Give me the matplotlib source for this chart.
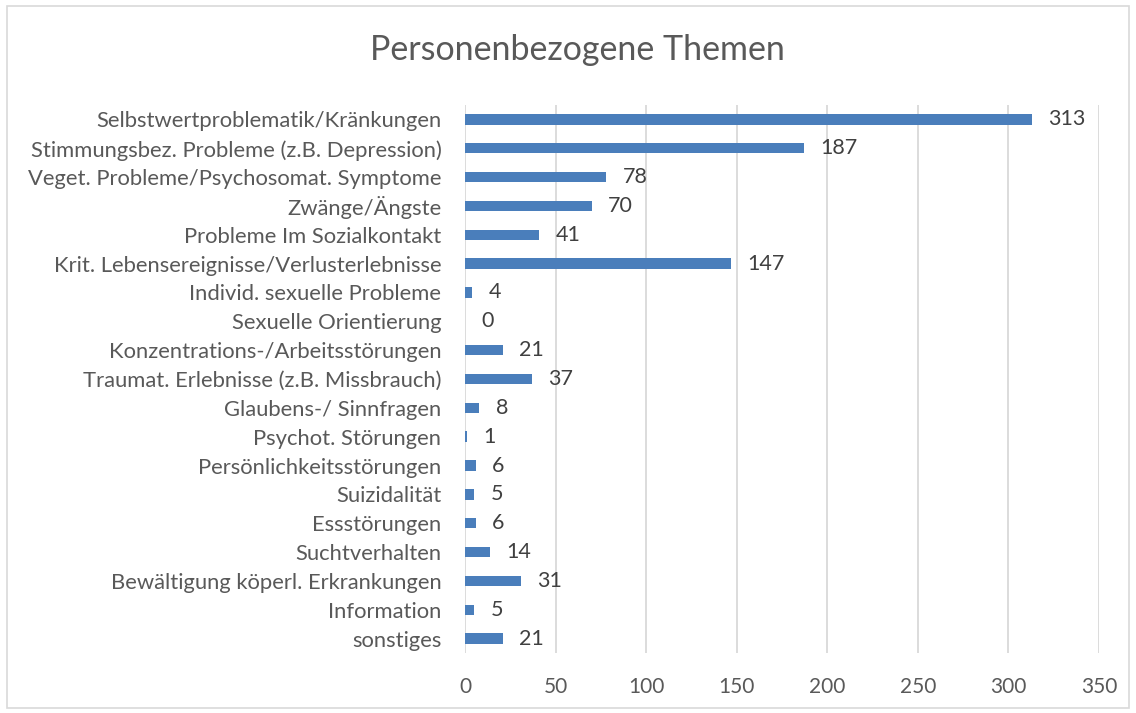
import matplotlib
matplotlib.use("Agg")
import matplotlib.pyplot as plt
from matplotlib.patches import Rectangle

categories = [
    "Selbstwertproblematik/Kränkungen",
    "Stimmungsbez. Probleme (z.B. Depression)",
    "Veget. Probleme/Psychosomat. Symptome",
    "Zwänge/Ängste",
    "Probleme Im Sozialkontakt",
    "Krit. Lebensereignisse/Verlusterlebnisse",
    "Individ. sexuelle Probleme",
    "Sexuelle Orientierung",
    "Konzentrations-/Arbeitsstörungen",
    "Traumat. Erlebnisse (z.B. Missbrauch)",
    "Glaubens-/ Sinnfragen",
    "Psychot. Störungen",
    "Persönlichkeitsstörungen",
    "Suizidalität",
    "Essstörungen",
    "Suchtverhalten",
    "Bewältigung köperl. Erkrankungen",
    "Information",
    "sonstiges",
]
values = [313, 187, 78, 70, 41, 147, 4, 0, 21, 37, 8, 1, 6, 5, 6, 14, 31, 5, 21]
xticks = [0, 50, 100, 150, 200, 250, 300, 350]
title = "Personenbezogene Themen"

plt.rcParams['font.family'] = ['Lato', 'DejaVu Sans']
txt = "#595959"
bar_color = "#4A7EBB"

W, H = 1136, 713
fig = plt.figure(figsize=(W/100, H/100), dpi=100)
fig.patches.append(Rectangle((7/W, 1 - 708/H), (1129-7)/W, (708-6)/H,
                             transform=fig.transFigure, fill=False,
                             edgecolor="#D9D9D9", linewidth=1.2))

ax = fig.add_axes([465/W, 1 - 653/H, (1099-465)/W, (653-105)/H])
y = list(range(len(categories)))
ax.barh(y, values, height=0.36, color=bar_color, zorder=3)
ax.set_ylim(len(categories) - 0.5, -0.5)
ax.set_xlim(0, 350)
ax.set_xticks(xticks)
ax.set_yticks(y)
ax.set_yticklabels(categories)
for yi, v in zip(y, values):
    ax.text(v + 9, yi, str(v), va="center", ha="left", fontsize=15.5, color="#404040")

ax.grid(axis="x", color="#D9D9D9", linewidth=1.3, zorder=0)
for s in ax.spines.values():
    s.set_visible(False)
ax.tick_params(axis="x", length=0, colors=txt, labelsize=15)
ax.tick_params(axis="y", length=0, colors=txt, labelsize=15.8)
ax.tick_params(axis="x", pad=17)
ax.tick_params(axis="y", pad=17)

fig.text(577/W, 1 - 50/H, title, ha="center", va="center", fontsize=24.5, color=txt)

fig.savefig("out.png", dpi=100)
